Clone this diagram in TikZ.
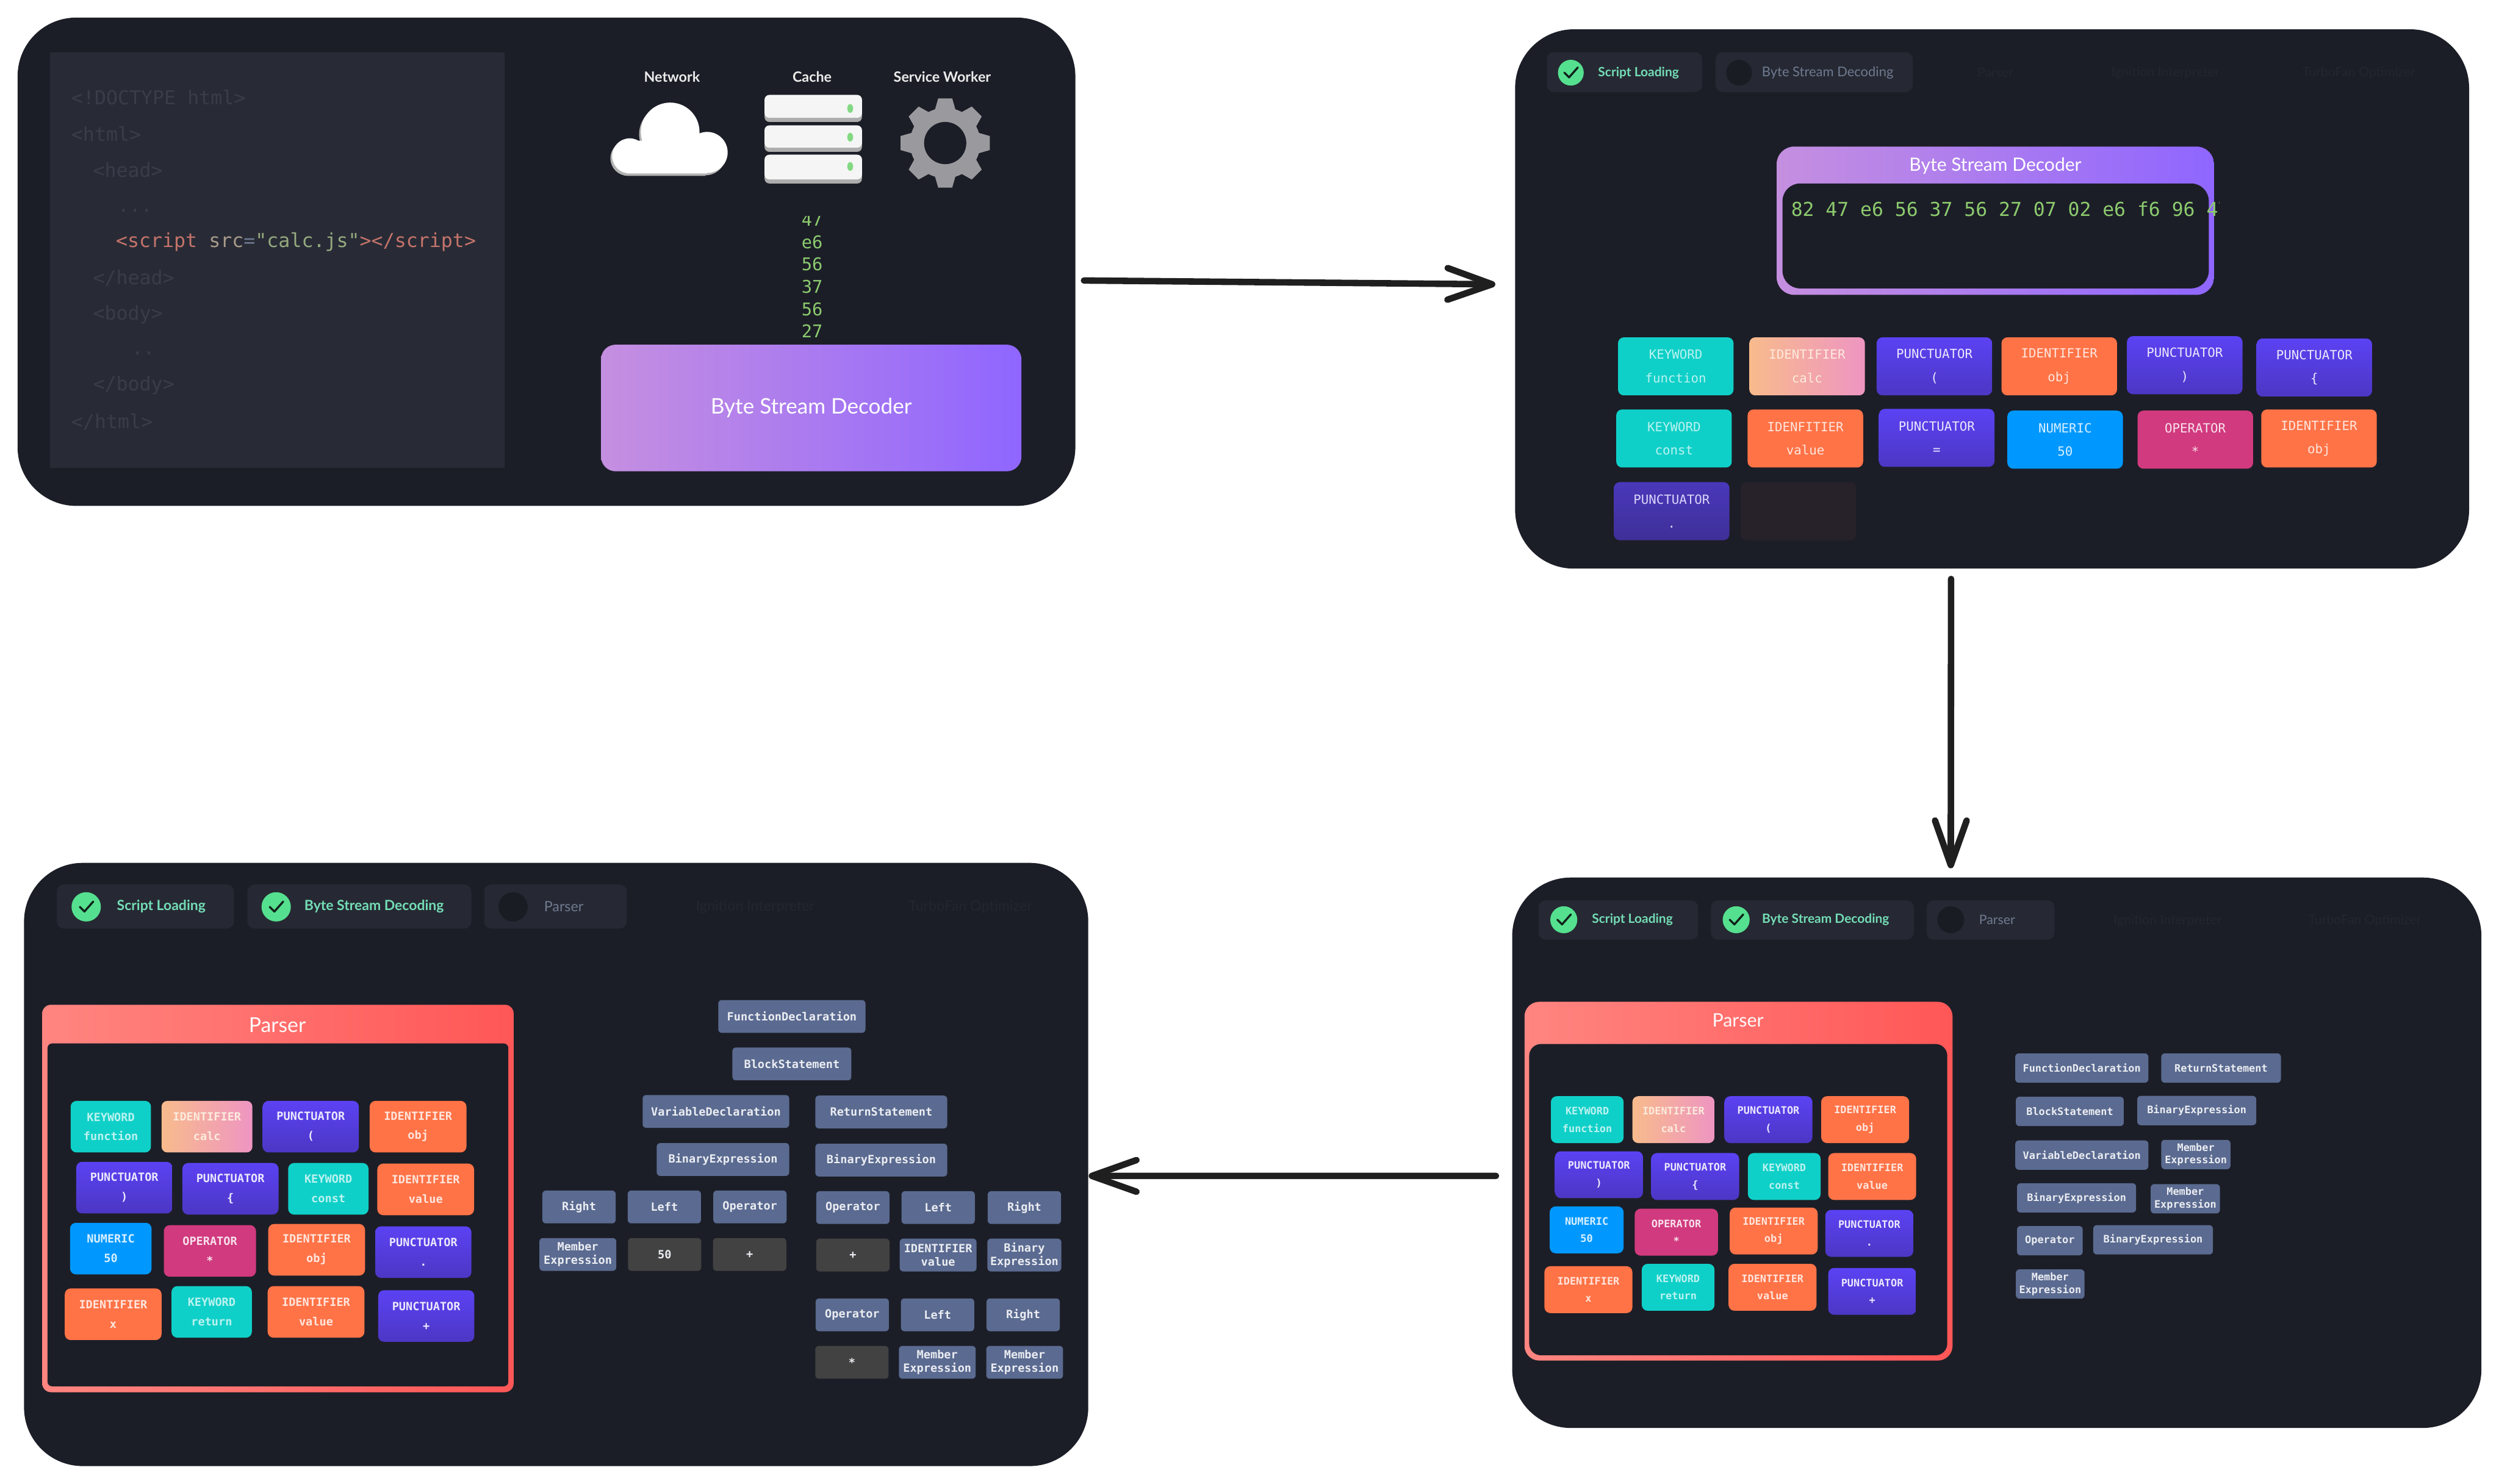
\documentclass[tikz,border=0pt]{standalone}
\usepackage{fontspec}
\setmainfont{Lato}
\setmonofont{DejaVu Sans Mono}
\usetikzlibrary{positioning,arrows.meta,calc}
\definecolor{cPanel}{HTML}{1C1E27}
\definecolor{cCode}{HTML}{282B35}
\definecolor{cCodeDim}{HTML}{3A3D49}
\definecolor{cPill}{HTML}{262933}
\definecolor{cDot}{HTML}{1A1C23}
\definecolor{cFaint}{HTML}{23262F}
\definecolor{cDone}{HTML}{55E08F}
\definecolor{cDoneTxt}{HTML}{74DDB6}
\definecolor{cDim}{HTML}{6F7A90}
\definecolor{cHex}{HTML}{8CCB6E}
\definecolor{cDecL}{HTML}{C58FE0}
\definecolor{cDecR}{HTML}{8F66FF}
\definecolor{cParL}{HTML}{FF8580}
\definecolor{cParR}{HTML}{FF5757}
\definecolor{cKey}{HTML}{0FD0C8}
\definecolor{cIdent}{HTML}{FF7347}
\definecolor{cPuncT}{HTML}{5B42F3}
\definecolor{cPuncB}{HTML}{4B37C4}
\definecolor{cNum}{HTML}{0098FF}
\definecolor{cOper}{HTML}{D13A7E}
\definecolor{cCalcL}{HTML}{F8BB8C}
\definecolor{cCalcR}{HTML}{EE95C2}
\definecolor{cAst}{HTML}{5A6A90}
\definecolor{cAstLit}{HTML}{424242}
\definecolor{cTag}{HTML}{C4736B}
\definecolor{cAttr}{HTML}{A89A8A}
\definecolor{cStr}{HTML}{95A97F}
\definecolor{cGear}{HTML}{9A9A9E}
\newcommand{\lab}[1]{\fontsize{#1}{#1}\selectfont}
\newcommand{\labb}[1]{\fontsize{#1}{#1}\bfseries\selectfont}
\newcommand{\mono}[2]{\fontsize{#1}{#2}\ttfamily\selectfont}
\newcommand{\monob}[2]{\fontsize{#1}{#2}\ttfamily\bfseries\selectfont}

\begin{document}
\begin{tikzpicture}[
  panel/.style={fill=cPanel, rounded corners=10mm, inner sep=0pt},
  xcode/.style={anchor=west, font=\mono{9.36}{11}, text=cCodeDim, inner sep=0pt},
  xpill/.style={fill=cPill, rounded corners=1.2mm, inner sep=0pt},
  xdone/.style={circle, fill=cDone, inner sep=0pt, path picture={
      \draw[shift={(path picture bounding box.center)}, line width=1pt, line cap=round, line join=round, color=cDot!70!cDone!40!black]
        (-.11,0) -- (-.03,-.08) -- (.12,.09);}},
  xwait/.style={circle, fill=cDot, inner sep=0pt},
  xdec/.style={left color=cDecL, right color=cDecR, inner sep=0pt, text=white},
  xpar/.style={left color=cParL, right color=cParR, inner sep=0pt},
  xin/.style={fill=cPanel, inner sep=0pt},
  xhex/.style={text=cHex, inner sep=0pt},
  tok/.style={rounded corners=1mm, align=center, inner sep=0pt},
  xkey/.style={tok, fill=cKey, text=white!72!cKey},
  xident/.style={tok, fill=cIdent, text=white!82!cIdent},
  xpunc/.style={tok, top color=cPuncT, bottom color=cPuncB, text=white!88!cPuncT},
  xnum/.style={tok, fill=cNum, text=white!85!cNum},
  xoper/.style={tok, fill=cOper, text=white!85!cOper},
  xcalc/.style={tok, left color=cCalcL, right color=cCalcR, text=white!70!cCalcL},
  xast/.style={fill=cAst, text=white!88!cAst, rounded corners=.6mm, align=center, inner sep=0pt},
  xlit/.style={xast, fill=cAstLit},
  arr/.style={-{Straight Barb[length=7.6mm,width=5.4mm,round]}, line width=1.1mm, color=black!88, line cap=round}]

\path[fill=white, use as bounding box] (0,0) rectangle (42.62,-25.31);

% panels
\node[panel, minimum width=18.04cm, minimum height=8.33cm] (panelA) at (9.32,-4.465) {};
\node[panel, minimum width=16.27cm, minimum height=9.20cm] (panelB) at (33.975,-5.10) {};
\node[panel, minimum width=16.53cm, minimum height=9.39cm] (panelC) at (34.055,-19.665) {};
\node[panel, minimum width=18.15cm, minimum height=10.29cm] (panelD) at (9.485,-19.865) {};

% arrows between panels
\draw[arr] ($(panelA.east)+(.14,-.32)$) -- ($(panelB.west)+(-.33,.25)$);
\draw[arr] ($(panelB.south)+(-.70,-.17)$) -- ($(panelC.north)+(-.785,.15)$);
\draw[arr] ($(panelC.west)+(-.27,-.395)$) -- ($(panelD.east)+(0,-.195)$);

% --- panel A: html source
\node[fill=cCode, minimum width=7.75cm, minimum height=7.09cm, inner sep=0pt] (codeA) at (4.725,-4.435) {};
\node[xcode] (ln1) at (1.21,-1.66) {<!DOCTYPE html>};
\node[xcode] (ln2) at (1.21,-2.28) {<html>};
\node[xcode] (ln3) at (1.58,-2.90) {<head>};
\node[xcode] (ln4) at (2.00,-3.59) {...};
\node[xcode] (ln5) at (1.97,-4.13) {{\color{cTag}<script} {\color{cAttr}src}{\color{cDim}=}{\color{cStr}"calc.js"}{\color{cTag}></script>}};
\node[xcode] (ln6) at (1.58,-4.74) {</head>};
\node[xcode] (ln7) at (1.58,-5.37) {<body>};
\node[xcode] (ln8) at (2.24,-6.03) {..};
\node[xcode] (ln9) at (1.58,-6.57) {</body>};
\node[xcode] (ln10) at (1.21,-7.20) {</html>};

% panel A: sources
\node[text=white!92!black, font=\labb{6.9}, inner sep=0pt] (lblNet) at (11.46,-1.31) {Network};
\node[text=white!92!black, font=\labb{6.9}, inner sep=0pt] (lblCache) at (13.85,-1.31) {Cache};
\node[text=white!92!black, font=\labb{6.9}, inner sep=0pt] (lblSw) at (16.07,-1.31) {Service Worker};

% cloud
\foreach \dx/\dy/\col in {-.03/-.04/black!30, 0/0/white} {
  \fill[\col, shift={(\dx,\dy)}] (11.43,-2.25) circle (.50) (10.74,-2.66) circle (.30) (12.06,-2.60) circle (.35)
    (10.74,-2.40) rectangle (12.06,-2.96);
}
% server
\foreach \y/\h/\g in {-1.62/.46/.23, -2.14/.45/.20, -2.64/.49/.20} {
  \fill[black!32, rounded corners=.8mm] (13.04,\y) rectangle ++(1.66,-\h);
  \fill[white!96!black, rounded corners=.8mm] (13.04,\y) rectangle ++(1.66,-\h+.07);
  \fill[green!40!white!85!black] (14.50,\y-\g) ellipse (.05 and .075);
}
% gear
\begin{scope}[shift={(16.12,-2.44)}]
  \foreach \a in {0,45,...,315}
    \fill[cGear, rotate=\a] (-.18,.55) -- (-.12,.76) -- (.12,.76) -- (.18,.55) -- cycle;
  \fill[cGear] (0,0) circle (.60);
  \fill[cPanel] (0,0) circle (.36);
\end{scope}

% bytes falling into the decoder
\begin{scope}
  \clip (13.3,-3.69) rectangle (14.4,-5.9);
  \node[xhex, align=center, font=\mono{8.5}{10.87}] (hexCol) at (13.85,-4.70) {47\\e6\\56\\37\\56\\27};
\end{scope}
\node[xdec, rounded corners=2.5mm, minimum width=7.17cm, minimum height=2.16cm, font=\lab{10.4}] (decA) at (13.835,-6.96) {Byte Stream Decoder};

% --- panel B: steps
\node[xpill, minimum width=2.65cm, minimum height=.68cm] (bPill1) at (27.705,-1.23) {};
\node[xpill, minimum width=3.36cm, minimum height=.68cm] (bPill2) at (30.94,-1.23) {};
\node[xdone, minimum size=.44cm] (bChk1) at (26.79,-1.24) {};
\node[xwait, minimum size=.44cm] (bDot2) at (29.66,-1.24) {};
\node[text=cDoneTxt, font=\labb{6.2}, inner sep=0pt] (bTxt1) at (27.945,-1.24) {Script Loading};
\node[text=cDim, font=\lab{6.5}, inner sep=0pt] (bTxt2) at (31.17,-1.24) {Byte Stream Decoding};
\node[text=cFaint, font=\lab{6.3}, inner sep=0pt] (bTxt3) at (34.03,-1.24) {Parser};
\node[text=cFaint, font=\lab{6.3}, inner sep=0pt] (bTxt4) at (36.93,-1.24) {Ignition Interpreter};
\node[text=cFaint, font=\lab{6.3}, inner sep=0pt] (bTxt5) at (40.23,-1.24) {TurboFan Optimizer};

% panel B: decoder
\node[xdec, rounded corners=3mm, minimum width=7.46cm, minimum height=2.53cm] (decB) at (34.03,-3.765) {};
\node[xin, rounded corners=3mm, minimum width=7.27cm, minimum height=1.79cm] (decBin) at (34.035,-4.025) {};
\node[text=white, font=\lab{8.9}, inner sep=0pt] (decBt) at (34.03,-2.83) {Byte Stream Decoder};
\begin{scope}
  \clip (30.4,-3.2) rectangle (37.85,-3.95);
  \node[xhex, anchor=west, font=\mono{9.3}{11}] (hexRow) at (30.54,-3.57) {82 47 e6 56 37 56 27 07 02 e6 f6 96 47};
\end{scope}

% panel B: tokens
\begin{scope}[tok/.append style={font=\mono{6.15}{11.4}, minimum width=1.97cm, minimum height=.99cm}]
\node[xkey] (bK1) at (28.58,-6.25) {KEYWORD\\function};
\node[xcalc] (bC1) at (30.82,-6.25) {IDENTIFIER\\calc};
\node[xpunc] (bP1) at (32.99,-6.25) {PUNCTUATOR\\(};
\node[xident] (bI1) at (35.12,-6.25) {IDENTIFIER\\obj};
\node[xpunc] (bP2) at (37.26,-6.23) {PUNCTUATOR\\)};
\node[xpunc] (bP3) at (39.47,-6.27) {PUNCTUATOR\\\{};
\node[xkey] (bK2) at (28.55,-7.48) {KEYWORD\\const};
\node[xident] (bI2) at (30.79,-7.48) {IDENFITIER\\value};
\node[xpunc] (bP4) at (33.03,-7.47) {PUNCTUATOR\\=};
\node[xnum] (bN1) at (35.22,-7.50) {NUMERIC\\50};
\node[xoper] (bO1) at (37.44,-7.50) {OPERATOR\\*};
\node[xident] (bI3) at (39.55,-7.48) {IDENTIFIER\\obj};
\node[xpunc, top color=cPuncT!72!cPanel, bottom color=cPuncB!72!cPanel, text=white!78!cPuncT] (bP5) at (28.51,-8.72) {PUNCTUATOR\\.};
\node[tok, fill=cIdent!5!cPanel] (bGhost) at (30.67,-8.72) {};
\end{scope}

% --- panel C: steps
\node[xpill, minimum width=2.72cm, minimum height=.67cm] (cPill1) at (27.60,-15.695) {};
\node[xpill, minimum width=3.46cm, minimum height=.67cm] (cPill2) at (30.91,-15.695) {};
\node[xpill, minimum width=2.18cm, minimum height=.67cm] (cPill3) at (33.95,-15.695) {};
\node[xdone, minimum size=.46cm] (cChk1) at (26.67,-15.69) {};
\node[xdone, minimum size=.46cm] (cChk2) at (29.61,-15.69) {};
\node[xwait, minimum size=.46cm] (cDot3) at (33.27,-15.69) {};
\node[text=cDoneTxt, font=\labb{6.2}, inner sep=0pt] (cTxt1) at (27.84,-15.69) {Script Loading};
\node[text=cDoneTxt, font=\labb{6.2}, inner sep=0pt] (cTxt2) at (31.135,-15.69) {Byte Stream Decoding};
\node[text=cDim, font=\lab{6.3}, inner sep=0pt] (cTxt3) at (34.06,-15.69) {Parser};
\node[text=cFaint, font=\lab{6.3}, inner sep=0pt] (cTxt4) at (36.97,-15.71) {Ignition Interpreter};
\node[text=cFaint, font=\lab{6.3}, inner sep=0pt] (cTxt5) at (40.33,-15.71) {TurboFan Optimizer};

% panel C: parser
\node[xpar, rounded corners=2.5mm, minimum width=7.30cm, minimum height=6.12cm] (parC) at (29.65,-20.15) {};
\node[xin, rounded corners=2mm, minimum width=7.13cm, minimum height=5.31cm] (parCin) at (29.645,-20.465) {};
\node[text=white!95!cParL, font=\lab{9}, inner sep=0pt] (parCt) at (29.64,-17.41) {Parser};

\begin{scope}[tok/.append style={font=\monob{5}{8.5}, minimum height=.80cm},
  xkey/.append style={minimum width=1.24cm}, xident/.append style={minimum width=1.50cm},
  xpunc/.append style={minimum width=1.50cm}, xnum/.append style={minimum width=1.26cm},
  xoper/.append style={minimum width=1.42cm}, xcalc/.append style={minimum width=1.40cm}]
\node[xkey] (cK1) at (27.07,-19.10) {KEYWORD\\function};
\node[xcalc] (cC1) at (28.54,-19.10) {IDENTIFIER\\calc};
\node[xpunc] (cP1) at (30.16,-19.10) {PUNCTUATOR\\(};
\node[xident] (cI1) at (31.81,-19.10) {IDENTIFIER\\obj};
\node[xpunc] (cP2) at (27.27,-20.04) {PUNCTUATOR\\)};
\node[xpunc] (cP3) at (28.91,-20.07) {PUNCTUATOR\\\{};
\node[xkey] (cK2) at (30.43,-20.07) {KEYWORD\\const};
\node[xident] (cI2) at (31.93,-20.07) {IDENTIFIER\\value};
\node[xnum] (cN1) at (27.06,-20.98) {NUMERIC\\50};
\node[xoper] (cO1) at (28.59,-21.02) {OPERATOR\\*};
\node[xident] (cI3) at (30.25,-21.00) {IDENTIFIER\\obj};
\node[xpunc] (cP4) at (31.88,-21.04) {PUNCTUATOR\\.};
\node[xident] (cI4) at (27.09,-22.00) {IDENTIFIER\\x};
\node[xkey] (cK3) at (28.62,-21.96) {KEYWORD\\return};
\node[xident] (cI5) at (30.23,-21.96) {IDENTIFIER\\value};
\node[xpunc] (cP5) at (31.93,-22.03) {PUNCTUATOR\\+};
\end{scope}

% panel C: syntax nodes
\begin{scope}[xast/.append style={font=\monob{5}{6}, minimum height=.50cm}]
\node[xast, minimum width=2.27cm] (cA1) at (35.505,-18.22) {FunctionDeclaration};
\node[xast, minimum width=2.04cm] (cA2) at (37.88,-18.22) {ReturnStatement};
\node[xast, minimum width=1.84cm] (cA3) at (35.30,-18.96) {BlockStatement};
\node[xast, minimum width=2.03cm] (cA4) at (37.465,-18.945) {BinaryExpression};
\node[xast, minimum width=2.27cm] (cA5) at (35.505,-19.705) {VariableDeclaration};
\node[xast, minimum width=1.18cm] (cA6) at (37.45,-19.695) {Member\\Expression};
\node[xast, minimum width=2.03cm] (cA7) at (35.415,-20.435) {BinaryExpression};
\node[xast, minimum width=1.18cm] (cA8) at (37.27,-20.45) {Member\\Expression};
\node[xast, minimum width=1.12cm] (cA9) at (34.96,-21.165) {Operator};
\node[xast, minimum width=2.04cm] (cA10) at (36.72,-21.15) {BinaryExpression};
\node[xast, minimum width=1.17cm] (cA11) at (34.965,-21.905) {Member\\Expression};
\end{scope}

% --- panel D: steps
\node[xpill, minimum width=3.02cm, minimum height=.75cm] (dPill1) at (2.48,-15.465) {};
\node[xpill, minimum width=3.82cm, minimum height=.75cm] (dPill2) at (6.13,-15.465) {};
\node[xpill, minimum width=2.43cm, minimum height=.75cm] (dPill3) at (9.475,-15.465) {};
\node[xdone, minimum size=.50cm] (dChk1) at (1.47,-15.47) {};
\node[xdone, minimum size=.50cm] (dChk2) at (4.71,-15.47) {};
\node[xwait, minimum size=.50cm] (dDot3) at (8.75,-15.47) {};
\node[text=cDoneTxt, font=\labb{6.8}, inner sep=0pt] (dTxt1) at (2.75,-15.46) {Script Loading};
\node[text=cDoneTxt, font=\labb{6.8}, inner sep=0pt] (dTxt2) at (6.38,-15.46) {Byte Stream Decoding};
\node[text=cDim, font=\lab{6.9}, inner sep=0pt] (dTxt3) at (9.615,-15.46) {Parser};
\node[text=cFaint, font=\lab{6.9}, inner sep=0pt] (dTxt4) at (12.88,-15.47) {Ignition Interpreter};
\node[text=cFaint, font=\lab{6.9}, inner sep=0pt] (dTxt5) at (16.55,-15.47) {TurboFan Optimizer};

% panel D: parser
\node[xpar, rounded corners=1.5mm, minimum width=8.04cm, minimum height=6.61cm] (parD) at (4.74,-20.445) {};
\node[xin, rounded corners=.8mm, minimum width=7.86cm, minimum height=5.85cm] (parDin) at (4.74,-20.725) {};
\node[text=white!95!cParL, font=\lab{10}, inner sep=0pt] (parDt) at (4.73,-17.49) {Parser};

\begin{scope}[tok/.append style={font=\monob{5.5}{9.4}, minimum height=.88cm},
  xkey/.append style={minimum width=1.37cm}, xident/.append style={minimum width=1.65cm},
  xpunc/.append style={minimum width=1.64cm}, xnum/.append style={minimum width=1.39cm},
  xoper/.append style={minimum width=1.57cm}, xcalc/.append style={minimum width=1.55cm}]
\node[xkey] (dK1) at (1.89,-19.22) {KEYWORD\\function};
\node[xcalc] (dC1) at (3.53,-19.22) {IDENTIFIER\\calc};
\node[xpunc] (dP1) at (5.30,-19.22) {PUNCTUATOR\\(};
\node[xident] (dI1) at (7.13,-19.22) {IDENTIFIER\\obj};
\node[xpunc] (dP2) at (2.12,-20.26) {PUNCTUATOR\\)};
\node[xpunc] (dP3) at (3.93,-20.28) {PUNCTUATOR\\\{};
\node[xkey] (dK2) at (5.60,-20.28) {KEYWORD\\const};
\node[xident] (dI2) at (7.26,-20.29) {IDENTIFIER\\value};
\node[xnum] (dN1) at (1.89,-21.30) {NUMERIC\\50};
\node[xoper] (dO1) at (3.58,-21.34) {OPERATOR\\*};
\node[xident] (dI3) at (5.40,-21.32) {IDENTIFIER\\obj};
\node[xpunc] (dP4) at (7.22,-21.36) {PUNCTUATOR\\.};
\node[xident] (dI4) at (1.93,-22.42) {IDENTIFIER\\x};
\node[xkey] (dK3) at (3.61,-22.38) {KEYWORD\\return};
\node[xident] (dI5) at (5.39,-22.38) {IDENTIFIER\\value};
\node[xpunc] (dP5) at (7.27,-22.45) {PUNCTUATOR\\+};
\end{scope}

% panel D: syntax tree
\begin{scope}[xast/.append style={font=\monob{5.5}{6.5}, minimum height=.56cm, minimum width=1.25cm}]
\node[xast, minimum width=2.51cm] (dA1) at (13.505,-17.34) {FunctionDeclaration};
\node[xast, minimum width=2.03cm] (dA2) at (13.505,-18.15) {BlockStatement};
\node[xast, minimum width=2.50cm] (dA3) at (12.21,-18.96) {VariableDeclaration};
\node[xast, minimum width=2.25cm] (dA4) at (15.03,-18.97) {ReturnStatement};
\node[xast, minimum width=2.26cm] (dA5) at (12.33,-19.78) {BinaryExpression};
\node[xast, minimum width=2.25cm] (dA6) at (15.03,-19.79) {BinaryExpression};
\node[xast] (dR1) at (9.875,-20.59) {Right};
\node[xast] (dL1) at (11.33,-20.59) {Left};
\node[xast] (dO2) at (12.79,-20.59) {Operator};
\node[xast, minimum width=1.31cm] (dM1) at (9.855,-21.40) {Member\\Expression};
\node[xlit] (dV1) at (11.335,-21.40) {50};
\node[xlit] (dV2) at (12.785,-21.40) {+};
\node[xast] (dO3) at (14.545,-20.60) {Operator};
\node[xast] (dL2) at (16.00,-20.60) {Left};
\node[xast] (dR2) at (17.47,-20.60) {Right};
\node[xlit] (dV3) at (14.545,-21.41) {+};
\node[xast, minimum width=1.31cm] (dI6) at (16.00,-21.41) {IDENTIFIER\\value};
\node[xast, minimum width=1.26cm] (dB1) at (17.47,-21.41) {Binary\\Expression};
\node[xast] (dO4) at (14.535,-22.43) {Operator};
\node[xast] (dL3) at (15.99,-22.43) {Left};
\node[xast] (dR3) at (17.45,-22.43) {Right};
\node[xlit] (dV4) at (14.53,-23.24) {*};
\node[xast, minimum width=1.31cm] (dM2) at (15.985,-23.24) {Member\\Expression};
\node[xast, minimum width=1.31cm] (dM3) at (17.475,-23.24) {Member\\Expression};
\end{scope}
\end{tikzpicture}
\end{document}
